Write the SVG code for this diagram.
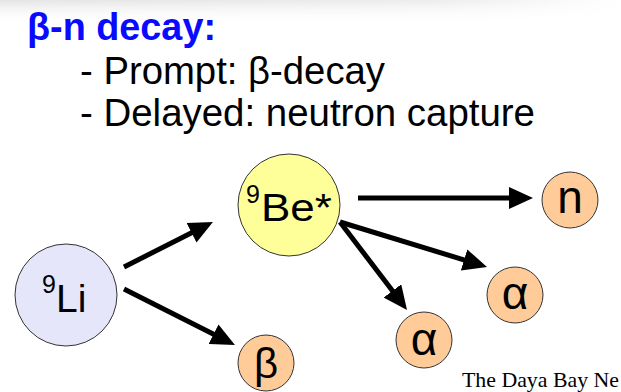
<svg xmlns="http://www.w3.org/2000/svg" width="621" height="392" viewBox="0 0 621 392">
<defs>
<linearGradient id="topShade" x1="0" y1="0" x2="0" y2="1">
<stop offset="0" stop-color="#e4e4e4"/>
<stop offset="1" stop-color="#ffffff" stop-opacity="0"/>
</linearGradient>
<linearGradient id="topFade" x1="0" y1="0" x2="1" y2="0">
<stop offset="0" stop-color="#fff" stop-opacity="0"/>
<stop offset="0.7" stop-color="#fff" stop-opacity="0.3"/>
<stop offset="1" stop-color="#fff" stop-opacity="1"/>
</linearGradient>
<marker id="ah" markerUnits="userSpaceOnUse" markerWidth="24" markerHeight="22" refX="4" refY="11" orient="auto" viewBox="0 0 24 22">
<path d="M0,0 L24,11 L0,22 z" fill="#000"/>
</marker>
</defs>
<style>
.big{fill:#e6e6fa;stroke:#333;stroke-width:1}
.be{fill:#ffff99;stroke:#333;stroke-width:1}
.small{fill:#ffcc99;stroke:#333;stroke-width:1}
.lbl{font-family:"Liberation Sans",Arial,sans-serif;fill:#000}
.conn line{stroke:#000;stroke-width:5;marker-end:url(#ah)}
</style>
<rect x="0" y="0" width="621" height="24" fill="url(#topShade)"/>
<rect x="0" y="0" width="621" height="24" fill="url(#topFade)"/>
<g id="title">
<text x="27" y="40" class="lbl" font-size="38" font-weight="bold" style="fill:#0a0aff" textLength="189" lengthAdjust="spacingAndGlyphs">β-n decay:</text>
<text x="80" y="84" class="lbl" font-size="38" textLength="305" lengthAdjust="spacingAndGlyphs">- Prompt: β-decay</text>
<text x="80" y="126" class="lbl" font-size="38" textLength="455" lengthAdjust="spacingAndGlyphs">- Delayed: neutron capture</text>
</g>
<g class="conn" id="connectors">
<line x1="124" y1="267" x2="195.1" y2="231"/>
<line x1="124" y1="289" x2="217.1" y2="336"/>
<line x1="358" y1="198" x2="513" y2="198"/>
<line x1="340" y1="222" x2="467.9" y2="261.1"/>
<line x1="340" y1="222" x2="394.9" y2="294.1"/>
</g>
<g id="li9">
<circle class="big" cx="66" cy="295" r="51"/>
<text class="lbl" x="42" y="293" font-size="25">9</text>
<text class="lbl" x="56" y="312" font-size="39">Li</text>
</g>
<g id="be9">
<circle class="be" cx="289" cy="205" r="51"/>
<text class="lbl" x="246" y="203" font-size="25">9</text>
<text class="lbl" x="261" y="221" font-size="39" textLength="71" lengthAdjust="spacingAndGlyphs">Be*</text>
</g>
<g id="beta">
<circle class="small" cx="266" cy="363" r="28"/>
<text class="lbl" x="266" y="378" font-size="42" text-anchor="middle">β</text>
</g>
<g id="neutron">
<circle class="small" cx="570" cy="200" r="28"/>
<text class="lbl" x="570" y="213" font-size="46" text-anchor="middle">n</text>
</g>
<g id="alpha1">
<circle class="small" cx="515" cy="295" r="28"/>
<text class="lbl" x="515" y="309" font-size="46" text-anchor="middle">α</text>
</g>
<g id="alpha2">
<circle class="small" cx="424" cy="340" r="28"/>
<text class="lbl" x="424" y="355" font-size="46" text-anchor="middle">α</text>
</g>
<text x="462" y="387" font-family="Liberation Serif,'Times New Roman',serif" font-size="22" fill="#000" textLength="157" lengthAdjust="spacingAndGlyphs">The Daya Bay Ne</text>
</svg>
